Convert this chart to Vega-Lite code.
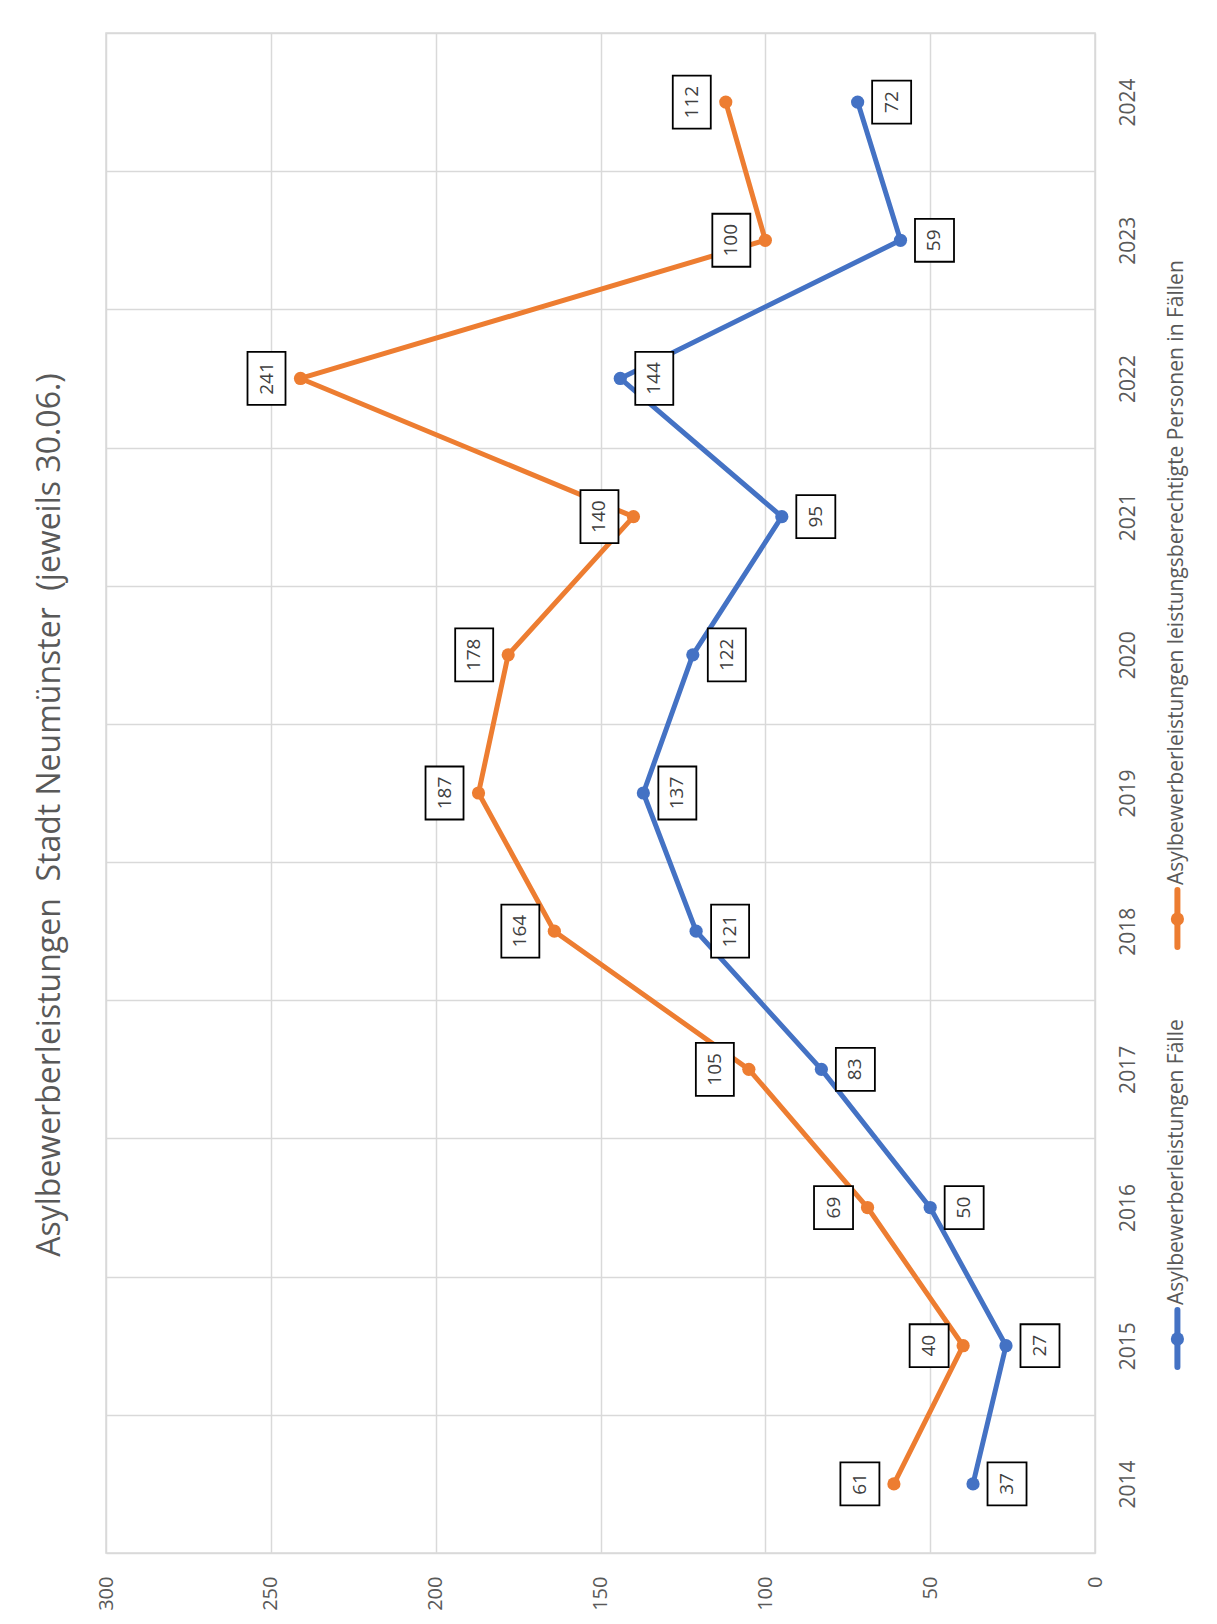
{
  "$schema": "https://vega.github.io/schema/vega-lite/v6.json",
  "width": 989,
  "height": 1520,
  "autosize": {"type": "none"},
  "padding": {"left": 106, "top": 33, "right": 122, "bottom": 71},
  "background": "white",
  "title": {
    "text": "Asylbewerberleistungen\u00a0 Stadt Neumünster\u00a0 (jeweils 30.06.)",
    "orient": "left",
    "anchor": "middle",
    "frame": "group",
    "offset": 4,
    "baseline": "alphabetic",
    "font": "Open Sans",
    "fontSize": 32,
    "fontWeight": "normal",
    "color": "#595959",
    "dx": -22
  },
  "datasets": {
    "main": [
      {"year": 2014, "series": "Asylbewerberleistungen Fälle", "value": 37},
      {"year": 2015, "series": "Asylbewerberleistungen Fälle", "value": 27},
      {"year": 2016, "series": "Asylbewerberleistungen Fälle", "value": 50},
      {"year": 2017, "series": "Asylbewerberleistungen Fälle", "value": 83},
      {"year": 2018, "series": "Asylbewerberleistungen Fälle", "value": 121},
      {"year": 2019, "series": "Asylbewerberleistungen Fälle", "value": 137},
      {"year": 2020, "series": "Asylbewerberleistungen Fälle", "value": 122},
      {"year": 2021, "series": "Asylbewerberleistungen Fälle", "value": 95},
      {"year": 2022, "series": "Asylbewerberleistungen Fälle", "value": 144},
      {"year": 2023, "series": "Asylbewerberleistungen Fälle", "value": 59},
      {"year": 2024, "series": "Asylbewerberleistungen Fälle", "value": 72},
      {"year": 2014, "series": "Asylbewerberleistungen leistungsberechtigte Personen in Fällen", "value": 61},
      {"year": 2015, "series": "Asylbewerberleistungen leistungsberechtigte Personen in Fällen", "value": 40},
      {"year": 2016, "series": "Asylbewerberleistungen leistungsberechtigte Personen in Fällen", "value": 69},
      {"year": 2017, "series": "Asylbewerberleistungen leistungsberechtigte Personen in Fällen", "value": 105},
      {"year": 2018, "series": "Asylbewerberleistungen leistungsberechtigte Personen in Fällen", "value": 164},
      {"year": 2019, "series": "Asylbewerberleistungen leistungsberechtigte Personen in Fällen", "value": 187},
      {"year": 2020, "series": "Asylbewerberleistungen leistungsberechtigte Personen in Fällen", "value": 178},
      {"year": 2021, "series": "Asylbewerberleistungen leistungsberechtigte Personen in Fällen", "value": 140},
      {"year": 2022, "series": "Asylbewerberleistungen leistungsberechtigte Personen in Fällen", "value": 241},
      {"year": 2023, "series": "Asylbewerberleistungen leistungsberechtigte Personen in Fällen", "value": 100},
      {"year": 2024, "series": "Asylbewerberleistungen leistungsberechtigte Personen in Fällen", "value": 112}
    ]
  },
  "config": {
    "view": {"stroke": "#d9d9d9", "strokeWidth": 1.5}
  },
  "layer": [
    {
      "data": {"name": "main"},
      "mark": {"type": "line", "strokeWidth": 5, "strokeJoin": "round", "strokeCap": "round", "point": {"filled": true, "size": 175, "opacity": 1}},
      "encoding": {
        "x": {
          "field": "value", "type": "quantitative",
          "scale": {"domain": [0, 300], "reverse": true, "nice": false, "zero": true},
          "title": null,
          "axis": {
            "orient": "bottom", "values": [0, 50, 100, 150, 200, 250, 300], "title": null,
            "labelAngle": 270, "labelAlign": "right", "labelBaseline": "middle", "labelPadding": 23,
            "labelFont": "Open Sans", "labelFontSize": 20, "labelColor": "#595959",
            "ticks": false, "domain": false, "grid": true, "gridColor": "#d9d9d9", "gridWidth": 1.5,
            "labelFlush": false, "labelOverlap": false
          }
        },
        "y": {
          "field": "year", "type": "quantitative",
          "scale": {"domain": [2013.5, 2024.5], "nice": false, "zero": false},
          "title": null,
          "axis": {
            "orient": "right", "title": null,
            "values": [2013.5, 2014, 2014.5, 2015, 2015.5, 2016, 2016.5, 2017, 2017.5, 2018, 2018.5, 2019, 2019.5, 2020, 2020.5, 2021, 2021.5, 2022, 2022.5, 2023, 2023.5, 2024, 2024.5],
            "labelExpr": "datum.value % 1 === 0 ? '' + datum.value : ''",
            "labelAngle": 270, "labelAlign": "center", "labelBaseline": "top", "labelPadding": 22,
            "labelFont": "Open Sans", "labelFontSize": 21, "labelColor": "#595959",
            "ticks": false, "domain": false, "grid": true, "gridColor": "#d9d9d9", "gridWidth": 1.5,
            "gridOpacity": {"condition": {"test": "datum.value % 1 !== 0", "value": 1}, "value": 0},
            "labelFlush": false, "labelOverlap": false, "labelBound": false
          }
        },
        "order": {"field": "year", "type": "quantitative"},
        "color": {
          "field": "series", "type": "nominal",
          "scale": {"domain": ["Asylbewerberleistungen Fälle", "Asylbewerberleistungen leistungsberechtigte Personen in Fällen"], "range": ["#4472C4", "#ED7D31"]},
          "legend": null
        }
      }
    },
    {
      "data": {"name": "main"},
      "transform": [{"filter": "datum.series === 'Asylbewerberleistungen leistungsberechtigte Personen in Fällen'"}],
      "mark": {"type": "point", "size": 2809, "filled": true, "fill": "white", "stroke": "black", "strokeWidth": 1.8, "opacity": 1, "xOffset": -34},
      "encoding": {
        "x": {"field": "value", "type": "quantitative", "title": null},
        "y": {"field": "year", "type": "quantitative", "title": null},
        "shape": {"condition": {"test": "datum.value >= 100", "value": "M-0.717,-1L0.717,-1L0.717,1L-0.717,1Z"}, "value": "M-0.736,-0.811L0.736,-0.811L0.736,0.811L-0.736,0.811Z"}
      }
    },
    {
      "data": {"name": "main"},
      "transform": [{"filter": "datum.series === 'Asylbewerberleistungen Fälle'"}],
      "mark": {"type": "point", "size": 2809, "filled": true, "fill": "white", "stroke": "black", "strokeWidth": 1.8, "opacity": 1, "xOffset": 34},
      "encoding": {
        "x": {"field": "value", "type": "quantitative", "title": null},
        "y": {"field": "year", "type": "quantitative", "title": null},
        "shape": {"condition": {"test": "datum.value >= 100", "value": "M-0.717,-1L0.717,-1L0.717,1L-0.717,1Z"}, "value": "M-0.736,-0.811L0.736,-0.811L0.736,0.811L-0.736,0.811Z"}
      }
    },
    {
      "data": {"name": "main"},
      "transform": [{"filter": "datum.series === 'Asylbewerberleistungen leistungsberechtigte Personen in Fällen'"}],
      "mark": {"type": "text", "angle": 270, "align": "center", "baseline": "middle", "font": "Open Sans", "fontSize": 19, "color": "#404040", "xOffset": -34},
      "encoding": {
        "x": {"field": "value", "type": "quantitative", "title": null},
        "y": {"field": "year", "type": "quantitative", "title": null},
        "text": {"field": "value", "type": "quantitative"}
      }
    },
    {
      "data": {"name": "main"},
      "transform": [{"filter": "datum.series === 'Asylbewerberleistungen Fälle'"}],
      "mark": {"type": "text", "angle": 270, "align": "center", "baseline": "middle", "font": "Open Sans", "fontSize": 19, "color": "#404040", "xOffset": 34},
      "encoding": {
        "x": {"field": "value", "type": "quantitative", "title": null},
        "y": {"field": "year", "type": "quantitative", "title": null},
        "text": {"field": "value", "type": "quantitative"}
      }
    },
    {
      "data": {"values": [{"series": "Asylbewerberleistungen Fälle"}]},
      "mark": {"type": "rule", "strokeWidth": 6, "strokeCap": "round"},
      "encoding": {
        "x": {"datum": -25, "title": null},
        "y": {"datum": 2015.258, "title": null},
        "y2": {"datum": 2014.846},
        "color": {"field": "series", "type": "nominal", "legend": null}
      }
    },
    {
      "data": {"values": [{"series": "Asylbewerberleistungen Fälle"}]},
      "mark": {"type": "point", "filled": true, "size": 175, "opacity": 1},
      "encoding": {
        "x": {"datum": -25, "title": null},
        "y": {"datum": 2015.049, "title": null},
        "color": {"field": "series", "type": "nominal", "legend": null}
      }
    },
    {
      "data": {"values": [{"series": "Asylbewerberleistungen Fälle"}]},
      "mark": {"type": "text", "angle": 270, "align": "left", "baseline": "middle", "font": "Open Sans", "fontSize": 21, "color": "#595959"},
      "encoding": {
        "x": {"datum": -25, "title": null},
        "y": {"datum": 2015.295, "title": null},
        "text": {"field": "series"}
      }
    },
    {
      "data": {"values": [{"series": "Asylbewerberleistungen leistungsberechtigte Personen in Fällen"}]},
      "mark": {"type": "rule", "strokeWidth": 6, "strokeCap": "round"},
      "encoding": {
        "x": {"datum": -25, "title": null},
        "y": {"datum": 2018.298, "title": null},
        "y2": {"datum": 2017.885},
        "color": {"field": "series", "type": "nominal", "legend": null}
      }
    },
    {
      "data": {"values": [{"series": "Asylbewerberleistungen leistungsberechtigte Personen in Fällen"}]},
      "mark": {"type": "point", "filled": true, "size": 175, "opacity": 1},
      "encoding": {
        "x": {"datum": -25, "title": null},
        "y": {"datum": 2018.088, "title": null},
        "color": {"field": "series", "type": "nominal", "legend": null}
      }
    },
    {
      "data": {"values": [{"series": "Asylbewerberleistungen leistungsberechtigte Personen in Fällen"}]},
      "mark": {"type": "text", "angle": 270, "align": "left", "baseline": "middle", "font": "Open Sans", "fontSize": 21, "color": "#595959"},
      "encoding": {
        "x": {"datum": -25, "title": null},
        "y": {"datum": 2018.334, "title": null},
        "text": {"field": "series"}
      }
    }
  ]
}
